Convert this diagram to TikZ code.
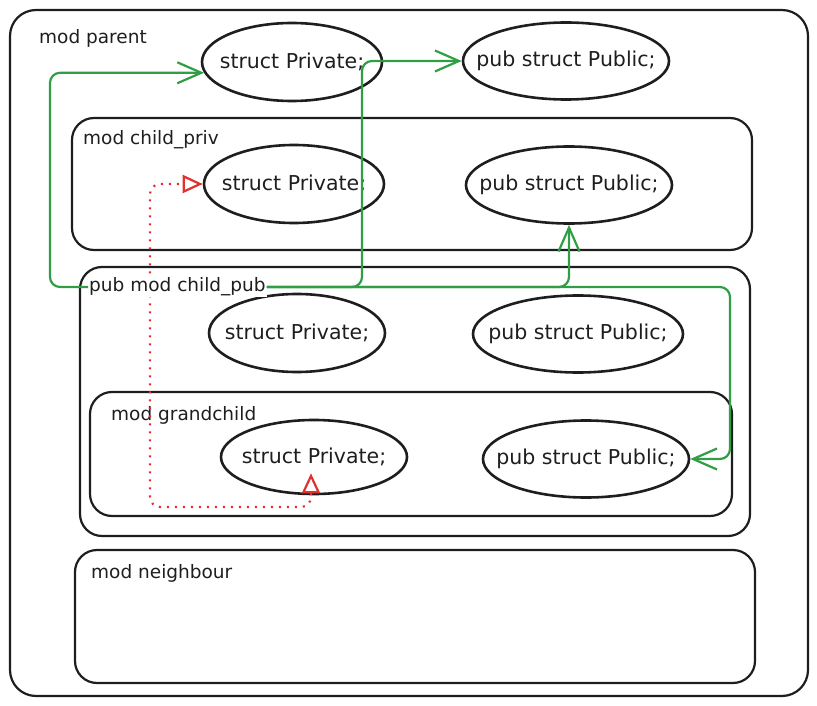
\documentclass[tikz,border=0pt]{standalone}
\usepackage{fontspec}
\setmainfont{DejaVu Sans}
\usetikzlibrary{arrows.meta,shapes.geometric}
\definecolor{ink}{HTML}{1E1E1E}
\definecolor{leaf}{HTML}{2F9E44}
\definecolor{alarm}{HTML}{E03131}
\tikzset{
  modbox/.style={draw=ink,line width=2.2pt,rounded corners=22pt},
  modlbl/.style={anchor=west,inner sep=1pt,font=\fontsize{18.5}{22}\selectfont,text=ink},
  item/.style={ellipse,draw=ink,line width=2.6pt,inner xsep=-20pt,inner ysep=0pt,font=\fontsize{20.5}{24}\selectfont,text=ink},
  itempriv/.style={item,minimum width=180pt,minimum height=78pt},
  itempub/.style={item,minimum width=206pt,minimum height=77pt},
  ok/.style={-{Straight Barb[length=24pt,width=21pt]},draw=leaf,line width=2.2pt,rounded corners=10pt},
  bad/.style={{Triangle[open,length=20pt,width=18pt]}-{Triangle[open,length=20pt,width=18pt]},draw=alarm,line width=2.2pt,dash pattern=on 2pt off 6pt,rounded corners=10pt},
}

\begin{document}
\begin{tikzpicture}[x=1pt,y=-1pt]
  \useasboundingbox (0,0) rectangle (817,706);
  % ── modules ──
  \draw[modbox,rounded corners=26pt] (10,10) rectangle (808,696);
  \node[modlbl] (lblparent) at (38,38) {mod parent};
  \draw[modbox] (72,118) rectangle (752,250);
  \node[modlbl] (lblpriv) at (82,140) {mod child\_priv};
  \draw[modbox] (80,267) rectangle (750,536);
  \draw[modbox] (90,392) rectangle (732,516);
  \node[modlbl] (lblgrand) at (110,415) {mod grandchild};
  \draw[modbox] (75,550) rectangle (755,683);
  \node[modlbl] (lblneigh) at (90,573) {mod neighbour};
  % ── items ──
  \node[itempriv] (ppriv) at (292,62) {struct Private;};
  \node[itempub] (ppub) at (566,61) {pub struct Public;};
  \node[itempriv] (cvpriv) at (294,184) {struct Private;};
  \node[itempub] (cvpub) at (569,185) {pub struct Public;};
  \node[itempriv,minimum width=176pt] (cbpriv) at (297,333) {struct Private;};
  \node[itempub,minimum width=210pt] (cbpub) at (578,334) {pub struct Public;};
  \node[itempriv,minimum width=186pt,minimum height=74pt] (gcpriv) at (314,457) {struct Private;};
  \node[itempub] (gcpub) at (586,459) {pub struct Public;};
  % ── not visible ──
  \coordinate (dotbend) at (150,507);
  \draw[bad] ([xshift=-3pt,yshift=22pt]gcpriv.south) |- (dotbend) |- (cvpriv.west);
  % ── visible from child_pub ──
  \node[modlbl,fill=white] (lblpub) at (88,287) {pub mod child\_pub};
  \coordinate (bendL) at (50,287);
  \coordinate (bendP) at (362,287);
  \coordinate (bendR) at (730,287);
  \draw[ok] (lblpub.west) -- (bendL) |- (ppriv.187);
  \draw[ok] (lblpub.east) -- (bendP) |- (ppub.west);
  \draw[ok] (lblpub.east) -| (cvpub.south);
  \draw[ok] (lblpub.east) -- (bendR) |- (gcpub.east);
\end{tikzpicture}
\end{document}
